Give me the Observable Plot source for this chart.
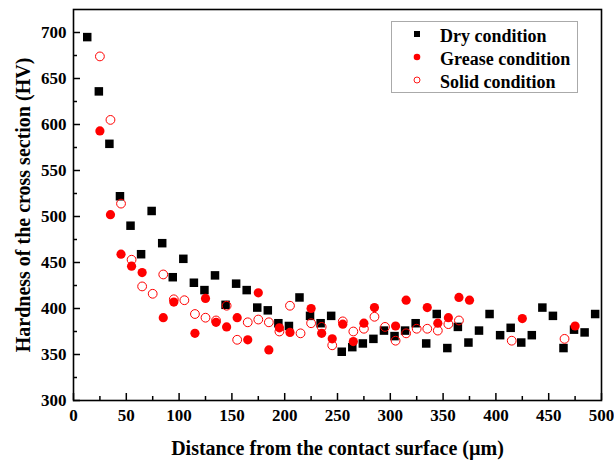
<!DOCTYPE html>
<html>
<head>
<meta charset="utf-8">
<script src="https://cdn.jsdelivr.net/npm/d3@7"></script>
<script src="https://cdn.jsdelivr.net/npm/@observablehq/plot@0.6"></script>
<style>
  body { margin: 0; background: #fff; }
  #wrap { position: relative; width: 614px; height: 462px; font-family: "Liberation Serif", "Times New Roman", serif; }
  #legend { position: absolute; left: 391px; top: 21px; width: 185px; height: 70px; border: 1px solid #aaa; background: #fff; font-weight: bold; font-size: 18px; }
  .row { position: absolute; left: 0; height: 22px; line-height: 22px; }
  .row svg { position: absolute; left: 21px; top: 5px; }
  .row span { position: absolute; left: 48px; white-space: nowrap; }
</style>
</head>
<body>
<div id="wrap"></div>
<script>
const dryX = [13,24,34,44,54,64,74,84,94,104,114,124,134,144,154,164,174,184,194,204,214,224,234,244,254,264,274,284,294,304,314,324,334,344,354,364,374,384,394,404,414,424,434,444,454,464,474,484,494];
const dryY = [695,636,579,522,490,459,506,471,434,454,428,420,436,404,427,420,401,398,384,381,412,392,384,392,353,358,362,367,376,370,376,384,362,394,357,380,363,376,394,371,379,363,371,401,392,357,377,374,394];
const greaseX = [25,35,45,55,65,85,95,115,125,135,145,155,165,175,185,195,205,225,235,245,255,265,275,285,305,315,335,345,355,365,375,425,475];
const greaseY = [593,502,459,446,439,390,407,373,411,385,380,390,366,417,355,379,374,400,373,367,383,364,384,401,381,409,401,384,390,412,409,389,381];
const solidX = [25,35,45,55,65,75,85,95,105,115,125,135,145,155,165,175,185,195,205,215,225,235,245,255,265,275,285,295,305,315,325,335,345,355,365,415,465];
const solidY = [674,605,514,453,424,416,437,410,409,394,390,387,403,366,385,388,385,375,403,373,384,380,360,386,375,378,391,380,365,373,378,378,376,383,387,365,367];
const seriesNames = ["Dry condition", "Grease condition", "Solid condition"];
const xMajor = [0,50,100,150,200,250,300,350,400,450,500];
const xMinor = [25,75,125,175,225,275,325,375,425,475];
const yMajor = [300,350,400,450,500,550,600,650,700];
const yMinor = [325,375,425,475,525,575,625,675];
const xTitle = "Distance from the contact surface (µm)";
const yTitle = "Hardness of the cross section (HV)";

const dry = dryX.map((x, i) => ({x, y: dryY[i]}));
const grease = greaseX.map((x, i) => ({x, y: greaseY[i]}));
const solid = solidX.map((x, i) => ({x, y: solidY[i]}));

const font = {fontFamily: "Liberation Serif", fontWeight: "bold"};

const chart = Plot.plot({
  width: 614,
  height: 462,
  marginLeft: 73,
  marginRight: 13,
  marginTop: 9,
  marginBottom: 62,
  style: {background: "#fff", color: "#000"},
  x: {domain: [0, 500]},
  y: {domain: [300, 725]},
  marks: [
    Plot.axisX(xMajor, {tickSize: 0, tickPadding: 8, fontSize: 17, ...font, label: null}),
    Plot.axisX(xMajor, {tickSize: -7, tickFormat: () => "", label: null, strokeWidth: 1.5}),
    Plot.axisX(xMinor, {tickSize: -4, tickFormat: () => "", label: null, strokeWidth: 1.5}),
    Plot.axisY(yMajor, {tickSize: 0, tickPadding: 7, fontSize: 17, ...font, label: null}),
    Plot.axisY(yMajor, {tickSize: -7, tickFormat: () => "", label: null, strokeWidth: 1.5}),
    Plot.axisY(yMinor, {tickSize: -4, tickFormat: () => "", label: null, strokeWidth: 1.5}),
    Plot.frame({stroke: "#000", strokeWidth: 1.6}),
    Plot.dot(dry, {x: "x", y: "y", symbol: "square", r: 4.8, fill: "#000", stroke: "none"}),
    Plot.dot(grease, {x: "x", y: "y", symbol: "circle", r: 4.6, fill: "#ff0000", stroke: "none"}),
    Plot.dot(solid, {x: "x", y: "y", symbol: "circle", r: 4.4, fill: "none", stroke: "#ff0000", strokeWidth: 1}),
    Plot.text([xTitle], {text: d => d, frameAnchor: "bottom", dy: 48, fontSize: 20, ...font, lineAnchor: "middle"}),
    Plot.text([yTitle], {text: d => d, frameAnchor: "left", dx: -50, rotate: -90, fontSize: 20, ...font, textAnchor: "middle", lineAnchor: "middle"})
  ]
});

const wrap = document.getElementById("wrap");
wrap.appendChild(chart);

const legend = document.createElement("div");
legend.id = "legend";
const markers = [
  '<svg width="8" height="8"><rect x="1" y="1" width="6" height="6" fill="#000"/></svg>',
  '<svg width="8" height="8"><circle cx="4" cy="4" r="3.3" fill="#ff0000"/></svg>',
  '<svg width="8" height="8"><circle cx="4" cy="4" r="3" fill="none" stroke="#ff0000" stroke-width="0.9"/></svg>'
];
seriesNames.forEach((name, i) => {
  const row = document.createElement("div");
  row.className = "row";
  row.style.top = (3 + i * 23) + "px";
  row.innerHTML = markers[i] + "<span>" + name + "</span>";
  legend.appendChild(row);
});
wrap.appendChild(legend);
</script>
</body>
</html>
